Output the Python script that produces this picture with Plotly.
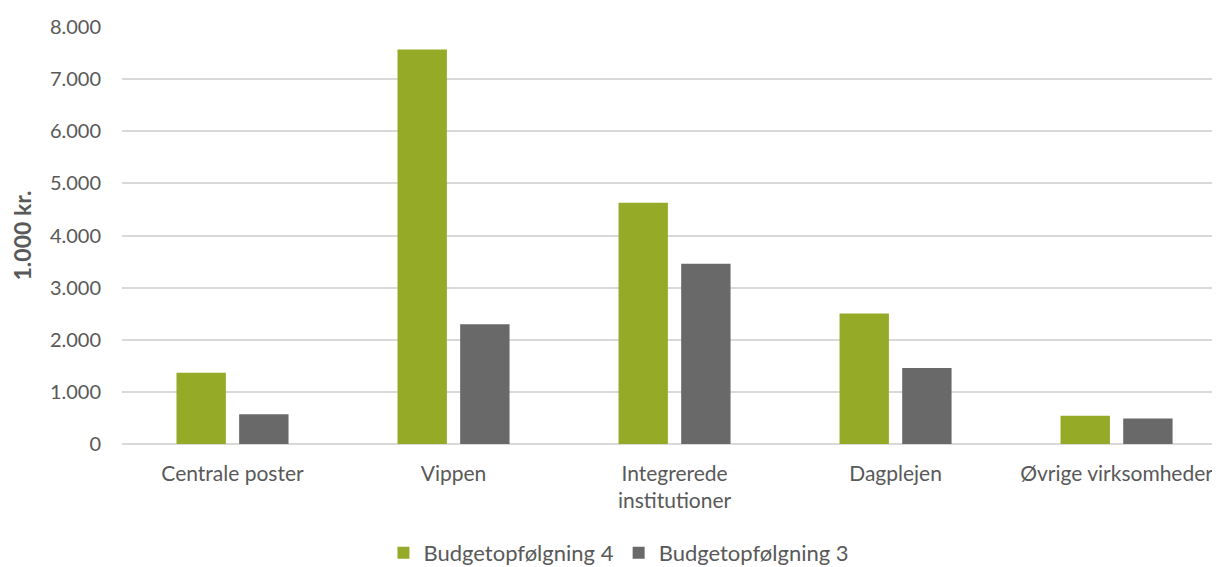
import plotly.graph_objects as go

categories = ["Centrale poster", "Vippen", "Integrerede<br>institutioner", "Dagplejen", "Øvrige virksomheder"]
budget4 = [1365, 7570, 4630, 2505, 540]
budget3 = [570, 2295, 3460, 1460, 490]
series_names = ["Budgetopfølgning 4", "Budgetopfølgning 3"]
colors = ["#95AB28", "#696969"]
y_ticks = [0, 1000, 2000, 3000, 4000, 5000, 6000, 7000, 8000]
y_title = "1.000 kr."

FONT = "Lato"
TXT = "#595959"

fig = go.Figure()
fig.add_trace(go.Bar(x=list(range(len(categories))), y=budget4, name=series_names[0],
                     marker=dict(color=colors[0], line=dict(width=0))))
fig.add_trace(go.Bar(x=list(range(len(categories))), y=budget3, name=series_names[1],
                     marker=dict(color=colors[1], line=dict(width=0))))

fig.update_layout(
    width=1212, height=559,
    margin=dict(l=114, r=0, t=19, b=123, autoexpand=False),
    paper_bgcolor="white", plot_bgcolor="white",
    barmode="group", bargap=0.433, bargroupgap=0.212,
    separators=",.",
    font=dict(family=FONT, size=22, color=TXT),
    showlegend=True,
    legend=dict(orientation="h", x=0.4526, xanchor="center", y=-0.261, yanchor="middle",
                font=dict(family=FONT, size=22, color=TXT), traceorder="normal",
                itemwidth=30, tracegroupgap=0),
    xaxis=dict(range=[-0.5, 4.468], tickmode="array", tickvals=list(range(len(categories))),
               ticktext=categories, showgrid=False, showline=False, zeroline=False,
               ticks="", ticklabelstandoff=15, tickfont=dict(family=FONT, size=21, color=TXT)),
    yaxis=dict(range=[0, 8000], tickmode="array", tickvals=y_ticks, tickformat=",.0f",
               showgrid=True, gridcolor="#D9D9D9", gridwidth=1.5, zeroline=True,
               zerolinecolor="#D9D9D9", zerolinewidth=1.5, showline=False, ticks="",
               ticklabelstandoff=20, tickfont=dict(family=FONT, size=20, color=TXT)),
    annotations=[dict(text="<b>" + y_title + "</b>", xref="paper", yref="paper",
                      x=-0.0911, y=0.5, xanchor="center", yanchor="middle", textangle=-90,
                      showarrow=False, font=dict(family=FONT, size=23, color=TXT))],
)

fig.write_html("out.html")
